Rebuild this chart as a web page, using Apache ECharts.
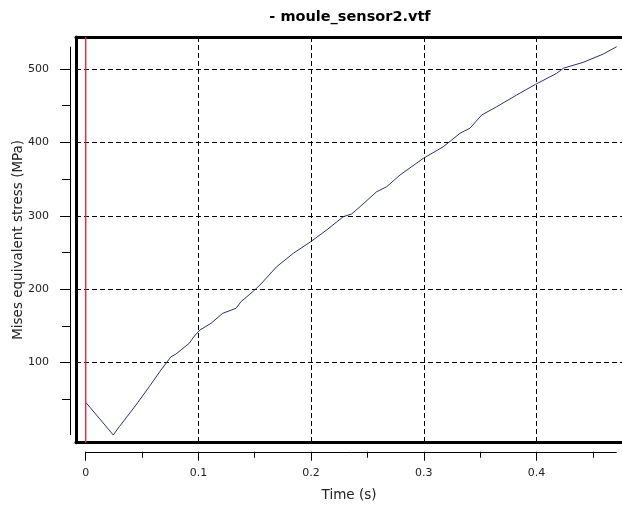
<!DOCTYPE html>
<html>
<head>
<meta charset="utf-8">
<script src="https://cdn.jsdelivr.net/npm/echarts@6.0.0/dist/echarts.min.js"></script>
<style>
html,body{margin:0;padding:0;background:#fff;}
#chart{width:622px;height:509px;}
</style>
</head>
<body>
<div id="chart"></div>
<script>
// ---- data ----
const times = [0, 0.0245, 0.0298, 0.0446, 0.0564, 0.0668, 0.0757, 0.0801, 0.0919, 0.0964,
  0.1014, 0.1112, 0.1216, 0.1334, 0.1378, 0.1482, 0.1547, 0.1695, 0.1842, 0.1996,
  0.2138, 0.2286, 0.2360, 0.2434, 0.2582, 0.2671, 0.2789, 0.2996, 0.3173, 0.3233,
  0.3321, 0.3410, 0.3514, 0.3647, 0.3824, 0.3993, 0.4179, 0.4238, 0.4415, 0.4593, 0.4712];
const stress = [46, 1.4, 12.7, 42.2, 67.2, 89.9, 108, 111.7, 126.3, 136.2,
  144.4, 153.5, 167.2, 174, 183, 196.6, 205.8, 230.7, 248.9, 264.7,
  280.7, 298.8, 302.5, 312.4, 332.8, 339.6, 355.6, 378.3, 394.1, 401.4,
  412.4, 419.4, 437.3, 448.6, 464.6, 479.2, 494.1, 501, 509.1, 520.4, 530.4];
const xMajorTicks = [0, 0.1, 0.2, 0.3, 0.4];
const xMinorTicks = [0.05, 0.15, 0.25, 0.35, 0.45];
const xGridValues = [0.1, 0.2, 0.3, 0.4];
const yMajorTicks = [100, 200, 300, 400, 500];
const yMinorTicks = [50, 150, 250, 350, 450];
const markerTime = 0;
const titleText = '- moule_sensor2.vtf';
const xName = 'Time (s)';
const yName = 'Mises equivalent stress (MPa)';

// ---- layout / style ----
const X_MIN = -0.0086, X_MAX = 0.4759;
const Y_MIN = -9.1, Y_MAX = 543.6;
const Y_OFF = 6, X_OFF = 9;
const FONT = 'DejaVu Sans';

const chart = echarts.init(document.getElementById('chart'), null, {renderer: 'canvas'});

const border = {show: true, onZero: false, lineStyle: {color: '#000', width: 3}};
const noLine = {show: false, onZero: false};
const dashed = {show: true, lineStyle: {color: '#000', width: 1, type: [5, 3]}};

const series = times.map((t, i) => [t, stress[i]]);

chart.setOption({
  animation: false,
  backgroundColor: '#fff',
  title: {
    text: titleText, left: 350, top: 10, padding: 0, textAlign: 'center',
    textStyle: {fontFamily: FONT, fontWeight: 'bold', fontSize: 14.5, color: '#000'}
  },
  grid: {left: 76, top: 37, right: 0, bottom: 66.3, containLabel: false, outerBoundsMode: 'none', show: false},
  xAxis: [
    { // frame bottom + vertical grid lines
      type: 'value', min: X_MIN, max: X_MAX, position: 'bottom',
      axisLine: border, axisTick: {show: false, customValues: xGridValues},
      axisLabel: {show: false}, splitLine: dashed
    },
    { // frame top
      type: 'value', min: X_MIN, max: X_MAX, position: 'top',
      axisLine: border, axisTick: {show: false}, axisLabel: {show: false}, splitLine: {show: false}
    },
    { // major ticks + labels
      type: 'value', min: X_MIN, max: X_MAX, position: 'bottom', offset: X_OFF,
      axisLine: noLine,
      axisTick: {show: true, inside: false, length: 9, customValues: xMajorTicks, lineStyle: {color: '#000'}},
      axisLabel: {show: true, customValues: xMajorTicks, margin: 16, fontFamily: FONT, fontSize: 11, color: '#222',
        formatter: v => String(v)},
      splitLine: {show: false},
      name: xName, nameLocation: 'middle', nameGap: 37, nameMoveOverlap: false,
      nameTextStyle: {fontFamily: FONT, fontSize: 13.5, color: '#222'}
    },
    { // minor ticks
      type: 'value', min: X_MIN, max: X_MAX, position: 'bottom', offset: X_OFF,
      axisLine: noLine,
      axisTick: {show: true, inside: false, length: 6, customValues: xMinorTicks, lineStyle: {color: '#000'}},
      axisLabel: {show: false}, splitLine: {show: false}
    }
  ],
  yAxis: [
    {
      type: 'value', min: Y_MIN, max: Y_MAX, position: 'left',
      axisLine: border, axisTick: {show: false, customValues: yMajorTicks},
      axisLabel: {show: false}, splitLine: dashed
    },
    {
      type: 'value', min: Y_MIN, max: Y_MAX, position: 'left', offset: Y_OFF,
      axisLine: noLine,
      axisTick: {show: true, inside: false, length: 10, customValues: yMajorTicks, lineStyle: {color: '#000'}},
      axisLabel: {show: true, customValues: yMajorTicks, margin: 21, fontFamily: FONT, fontSize: 11, color: '#222'},
      splitLine: {show: false},
      name: yName, nameLocation: 'middle', nameGap: 45, nameRotate: 90, nameMoveOverlap: false,
      nameTextStyle: {fontFamily: FONT, fontSize: 13.5, color: '#222'}
    },
    {
      type: 'value', min: Y_MIN, max: Y_MAX, position: 'left', offset: Y_OFF,
      axisLine: noLine,
      axisTick: {show: true, inside: false, length: 8, customValues: yMinorTicks, lineStyle: {color: '#000'}},
      axisLabel: {show: false}, splitLine: {show: false}
    }
  ],
  series: [
    {
      type: 'line', xAxisIndex: 0, yAxisIndex: 0, data: series,
      showSymbol: false, symbol: 'none', smooth: false, clip: false,
      lineStyle: {color: '#2e2e78', width: 1},
      z: 5
    },
    { // marker line at t = 0 and separate axis lines spanning the data range
      type: 'custom', coordinateSystem: 'cartesian2d', xAxisIndex: 0, yAxisIndex: 0,
      clip: false, silent: true, data: [[0, 0]], z: 6,
      renderItem: function (params, api) {
        const cs = params.coordSys;
        const yx = Math.round(cs.x - Y_OFF) + 0.5;
        const yTop = api.coord([0, Math.max(...stress)])[1];
        const yBot = api.coord([0, Math.min(...stress)])[1];
        const xy = Math.round(cs.y + cs.height + X_OFF) + 0.5;
        const xL = api.coord([Math.min(...times), 0])[0];
        const xR = api.coord([Math.max(...times), 0])[0];
        const mx = api.coord([markerTime, 0])[0];
        return {type: 'group', children: [
          {type: 'line', shape: {x1: mx, y1: cs.y, x2: mx, y2: cs.y + cs.height},
            style: {stroke: '#e0304a', lineWidth: 1.5, opacity: 1}},
          {type: 'line', shape: {x1: yx, y1: yTop, x2: yx, y2: yBot}, style: {stroke: '#000', lineWidth: 1}},
          {type: 'line', shape: {x1: xL, y1: xy, x2: xR, y2: xy}, style: {stroke: '#000', lineWidth: 1}}
        ]};
      }
    }
  ]
});
</script>
</body>
</html>
